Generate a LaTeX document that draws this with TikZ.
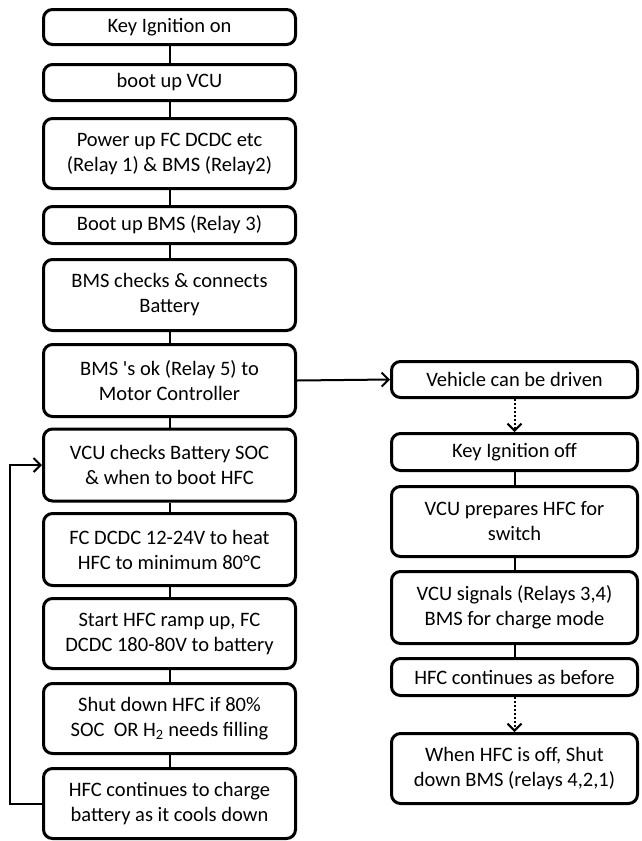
\documentclass[tikz,border=0pt]{standalone}
\usepackage{fontspec}
\newfontfamily\carl{Carlito}
\usetikzlibrary{arrows.meta}
\begin{document}
\begin{tikzpicture}[x=1pt,y=-1pt,
  box/.style={draw, line width=3pt, rounded corners=9pt, align=center, inner sep=0pt,
    font=\carl\fontsize{20.5}{25}\selectfont},
  lbox/.style={box, minimum width=252pt},
  rbox/.style={box, minimum width=246pt},
  link/.style={line width=2pt},
  arr/.style={line width=2pt, -{Straight Barb[length=7pt,width=14pt,line width=2pt]}},
  darr/.style={arr, dash pattern=on 2pt off 2pt}]
\useasboundingbox (0,0) rectangle (641,841);
% left column
\node[lbox, minimum height=35pt] (n1) at (169.5,27) {Key Ignition on};
\node[lbox, minimum height=36pt] (n2) at (169.5,82.5) {boot up VCU};
\node[lbox, minimum height=70pt] (n3) at (169.5,153.5) {Power up FC DCDC etc\\(Relay 1) \& BMS (Relay2)};
\node[lbox, minimum height=37pt] (n4) at (169.5,225) {Boot up BMS (Relay 3)};
\node[lbox, minimum height=71pt] (n5) at (169.5,295) {BMS checks \& connects\\Battery};
\node[lbox, minimum height=72pt] (n6) at (169.5,380.5) {BMS 's ok (Relay 5) to\\Motor Controller};
\node[lbox, minimum height=72pt] (n7) at (169.5,465) {VCU checks Battery SOC\\\& when to boot HFC};
\node[lbox, minimum height=72pt] (n8) at (169.5,549.5) {FC DCDC 12-24V to heat\\HFC to minimum 80°C};
\node[lbox, minimum height=70pt] (n9) at (169.5,633.5) {Start HFC ramp up, FC\\DCDC 180-80V to battery};
\node[lbox, minimum height=70pt] (n10) at (169.5,718.5) {Shut down HFC if 80\%\\SOC~ OR H\textsubscript{2} needs filling};
\node[lbox, minimum height=70pt] (n11) at (169.5,803.5) {HFC continues to charge\\battery as it cools down};
% right column
\node[rbox, minimum height=36pt] (r1) at (514.5,379.5) {Vehicle can be driven};
\node[rbox, minimum height=37pt] (r2) at (514.5,452) {Key Ignition off};
\node[rbox, minimum height=70pt] (r3) at (514.5,521.5) {VCU prepares HFC for\\switch};
\node[rbox, minimum height=72pt] (r4) at (514.5,607.5) {VCU signals (Relays 3,4)\\BMS for charge mode};
\node[rbox, minimum height=37pt] (r5) at (514.5,677) {HFC continues as before};
\node[rbox, minimum height=70pt] (r6) at (514.5,768.5) {When HFC is off, Shut\\down BMS (relays 4,2,1)};
% connectors
\foreach \a/\b in {n1/n2,n2/n3,n3/n4,n4/n5,n5/n6,n6/n7,n7/n8,n8/n9,n9/n10,n10/n11,r2/r3,r3/r4,r4/r5}
  \draw[link] (\a) -- (\b);
\draw[arr] (n6.east) -- (r1.west);
\draw[darr] (r1) -- (r2);
\draw[darr] (r5) -- (r6);
\coordinate (fb) at (10,0);
\draw[arr] (n11.west) -- (n11.west -| fb) |- (n7.west);
\end{tikzpicture}
\end{document}
